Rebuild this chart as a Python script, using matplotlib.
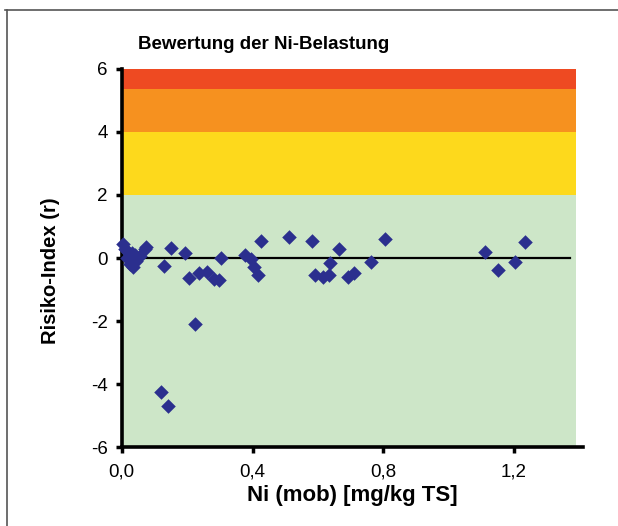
import matplotlib
matplotlib.use('Agg')
import matplotlib.pyplot as plt
from matplotlib.lines import Line2D
from matplotlib.ticker import FuncFormatter

plt.rcParams['font.family'] = ['Liberation Sans', 'DejaVu Sans']

# measured Ni (mob) values and risk index
ni_mob = [0.005, 0.01, 0.02, 0.015, 0.025, 0.035, 0.04, 0.055, 0.07, 0.045, 0.03,
          0.075, 0.151, 0.194, 0.13, 0.205, 0.235, 0.26, 0.281, 0.296, 0.304,
          0.376, 0.394, 0.406, 0.418, 0.427, 0.51, 0.583, 0.664, 0.806, 0.638,
          0.763, 0.592, 0.614, 0.635, 0.693, 0.711, 0.225, 0.121, 0.14,
          1.112, 1.152, 1.203, 1.234]
risk = [0.45, 0.3, 0.2, 0.0, -0.2, -0.3, 0.1, 0.05, 0.3, -0.1, 0.15,
        0.36, 0.32, 0.16, -0.25, -0.63, -0.48, -0.45, -0.68, -0.7, 0.0,
        0.1, -0.02, -0.27, -0.54, 0.53, 0.66, 0.53, 0.29, 0.61, -0.16,
        -0.13, -0.54, -0.61, -0.54, -0.61, -0.48, -2.08, -4.26, -4.7,
        0.2, -0.38, -0.12, 0.52]

# evaluation bands (lower, upper, colour)
band_low = [-6, 2, 4, 5.35]
band_high = [2, 4, 5.35, 6]
band_col = ['#cde6c8', '#fdd91c', '#f6911f', '#ee4a22']
band_xmax = 1.39
ref_line_xmax = 1.37

xticks = [0.0, 0.4, 0.8, 1.2]
yticks = [-6, -4, -2, 0, 2, 4, 6]

fig = plt.figure(figsize=(6.18, 5.26), dpi=100)
ax = fig.add_axes([0.197, 0.150, 0.746, 0.719])

for lo, hi, c in zip(band_low, band_high, band_col):
    ax.fill_between([0, band_xmax], lo, hi, color=c, lw=0, zorder=0)

ax.plot([0, ref_line_xmax], [0, 0], color='black', lw=1.6, zorder=2)
ax.scatter(ni_mob, risk, marker='D', s=55, color='#2b2f8e', zorder=4,
           linewidths=0, clip_on=False)

ax.set_xlim(0, 1.41)
ax.set_ylim(-6, 6)
ax.set_xticks(xticks)
ax.set_yticks(yticks)
ax.xaxis.set_major_formatter(FuncFormatter(lambda v, p: f'{v:.1f}'.replace('.', ',')))
ax.yaxis.set_major_formatter(FuncFormatter(lambda v, p: f'{int(round(v))}'))
ax.tick_params(axis='both', labelsize=13.5, width=2.5, length=4, color='black')
ax.tick_params(axis='x', pad=8)
ax.tick_params(axis='y', pad=6)

for s in ['top', 'right']:
    ax.spines[s].set_visible(False)
for s in ['left', 'bottom']:
    ax.spines[s].set_linewidth(2.6)
    ax.spines[s].set_zorder(3)

fig.text(0.426, 0.915, 'Bewertung der Ni-Belastung', ha='center', va='center',
         fontsize=13.5, fontweight='bold')
fig.text(0.57, 0.058, 'Ni (mob) [mg/kg TS]', ha='center', va='center',
         fontsize=16, fontweight='bold')
fig.text(0.081, 0.485, 'Risiko-Index (r)', ha='center', va='center',
         rotation=90, fontsize=14.5, fontweight='bold')

# outer frame (top and left only)
fig.add_artist(Line2D([0.008, 1.0], [0.981, 0.981], color='#555555', lw=1.2))
fig.add_artist(Line2D([0.011, 0.011], [0.0, 0.981], color='#555555', lw=1.2))

plt.savefig('out.png', dpi=100)
